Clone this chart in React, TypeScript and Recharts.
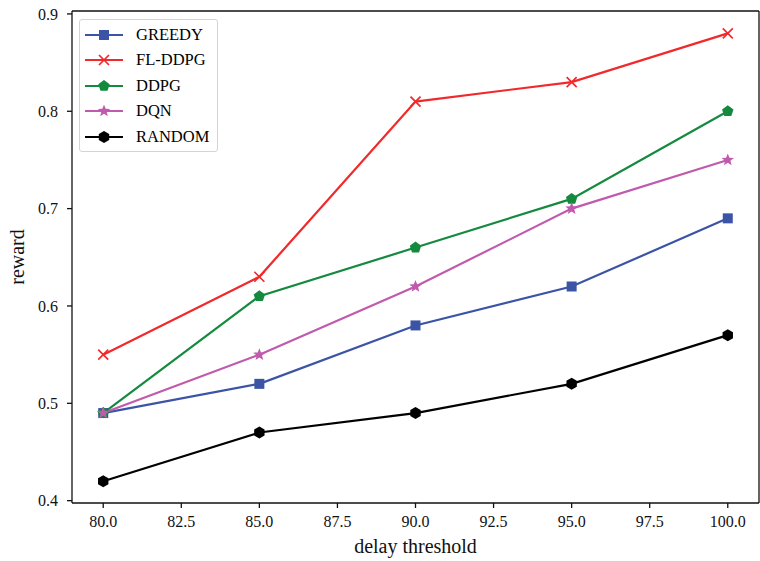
import React from 'react';
import { LineChart, Line, XAxis, YAxis, ReferenceLine } from 'recharts';

const thresholds = [80, 85, 90, 95, 100];
const greedy = [0.49, 0.52, 0.58, 0.62, 0.69];
const flddpg = [0.55, 0.63, 0.81, 0.83, 0.88];
const ddpg = [0.49, 0.61, 0.66, 0.71, 0.80];
const dqn = [0.49, 0.55, 0.62, 0.70, 0.75];
const random = [0.42, 0.47, 0.49, 0.52, 0.57];

const xTicks = [80, 82.5, 85, 87.5, 90, 92.5, 95, 97.5, 100];
const yTicks = [0.4, 0.5, 0.6, 0.7, 0.8, 0.9];

const data = thresholds.map((t, i) => ({
  t,
  GREEDY: greedy[i],
  'FL-DDPG': flddpg[i],
  DDPG: ddpg[i],
  DQN: dqn[i],
  RANDOM: random[i],
}));

const series = [
  { key: 'GREEDY', color: '#3b54a5', shape: 'square' },
  { key: 'FL-DDPG', color: '#f2292b', shape: 'x' },
  { key: 'DDPG', color: '#148a3f', shape: 'pentagon' },
  { key: 'DQN', color: '#c05aad', shape: 'star' },
  { key: 'RANDOM', color: '#000000', shape: 'hexagon' },
];

const FONT = '"Liberation Serif", "DejaVu Serif", "Times New Roman", serif';

function poly(cx: number, cy: number, r: number, n: number, rot: number) {
  const pts: string[] = [];
  for (let i = 0; i < n; i++) {
    const a = rot + (i * 2 * Math.PI) / n;
    pts.push(`${cx + r * Math.cos(a)},${cy + r * Math.sin(a)}`);
  }
  return pts.join(' ');
}

function star(cx: number, cy: number, ro: number, ri: number) {
  const pts: string[] = [];
  for (let i = 0; i < 10; i++) {
    const r = i % 2 === 0 ? ro : ri;
    const a = -Math.PI / 2 + (i * Math.PI) / 5;
    pts.push(`${cx + r * Math.cos(a)},${cy + r * Math.sin(a)}`);
  }
  return pts.join(' ');
}

function Marker({ cx, cy, shape, color }: { cx: number; cy: number; shape: string; color: string }) {
  if (shape === 'square') {
    return <rect x={cx - 5} y={cy - 5} width={10} height={10} fill={color} />;
  }
  if (shape === 'x') {
    const s = 5;
    return (
      <g stroke={color} strokeWidth={1.7}>
        <line x1={cx - s} y1={cy - s} x2={cx + s} y2={cy + s} />
        <line x1={cx - s} y1={cy + s} x2={cx + s} y2={cy - s} />
      </g>
    );
  }
  if (shape === 'pentagon') {
    return <polygon points={poly(cx, cy, 6, 5, -Math.PI / 2)} fill={color} />;
  }
  if (shape === 'star') {
    return <polygon points={star(cx, cy, 6.5, 2.8)} fill={color} />;
  }
  return <polygon points={poly(cx, cy, 6, 6, -Math.PI / 2)} fill={color} />;
}

function LegendBox() {
  return (
    <div
      style={{
        position: 'absolute',
        left: 79,
        top: 19,
        border: '1px solid #d4d4d4',
        borderRadius: 3,
        background: 'rgba(255,255,255,0.85)',
        width: 139,
        height: 133,
        boxSizing: 'border-box',
        paddingTop: 2,
      }}
    >
      {series.map((s) => (
        <div key={s.key} style={{ height: 25.5, display: 'flex', alignItems: 'center' }}>
          <svg width={46} height={20} style={{ marginLeft: 4, flex: 'none' }}>
            <line x1={1} y1={10} x2={39} y2={10} stroke={s.color} strokeWidth={2.2} />
            <Marker cx={20} cy={10} shape={s.shape} color={s.color} />
          </svg>
          <span style={{ fontFamily: FONT, fontSize: 16.5, color: '#000', marginLeft: 6, lineHeight: '20px' }}>{s.key}</span>
        </div>
      ))}
    </div>
  );
}

const yLabel = (props: any) => {
  const vb = props.viewBox || {};
  const x = 17;
  const y = (vb.y ?? 11) + (vb.height ?? 492) / 2;
  return (
    <text x={x} y={y} transform={`rotate(-90 ${x} ${y})`} textAnchor="middle" dominantBaseline="central" fill="#111" fontFamily={FONT} fontSize={20}>
      reward
    </text>
  );
};

export default function App() {
  return (
    <div style={{ position: 'absolute', left: 0, top: 0, width: 760, height: 561, background: '#fff' }}>
      <LineChart width={760} height={561} data={data} margin={{ top: 11, right: 1, left: 0, bottom: 0 }}>
        <XAxis
          dataKey="t"
          type="number"
          domain={[79, 101]}
          ticks={xTicks}
          allowDataOverflow
          tickFormatter={(v: number) => v.toFixed(1)}
          height={58}
          stroke="#111"
          strokeWidth={1.3}
          tickSize={5}
          tickMargin={8}
          tick={{ fill: '#111', fontFamily: FONT, fontSize: 16 }}
          label={{ value: 'delay threshold', position: 'insideBottom', offset: 8, fill: '#111', fontFamily: FONT, fontSize: 20 }}
        />
        <YAxis
          type="number"
          domain={[0.3976, 0.903]}
          ticks={yTicks}
          allowDataOverflow
          tickFormatter={(v: number) => v.toFixed(1)}
          width={72}
          stroke="#111"
          strokeWidth={1.3}
          tickSize={5}
          tickMargin={9}
          tick={{ fill: '#111', fontFamily: FONT, fontSize: 16 }}
          label={yLabel}
        />
        <ReferenceLine y={0.903} stroke="#111" strokeWidth={1.3} ifOverflow="extendDomain" />
        <ReferenceLine x={101} stroke="#111" strokeWidth={1.3} ifOverflow="extendDomain" />
        {series.map((s) => (
          <Line
            key={s.key}
            dataKey={s.key}
            stroke={s.color}
            strokeWidth={2.2}
            isAnimationActive={false}
            dot={(p: any) => <Marker key={`${s.key}-${p.index}`} cx={p.cx} cy={p.cy} shape={s.shape} color={s.color} />}
            activeDot={false}
          />
        ))}
      </LineChart>
      <LegendBox />
    </div>
  );
}
